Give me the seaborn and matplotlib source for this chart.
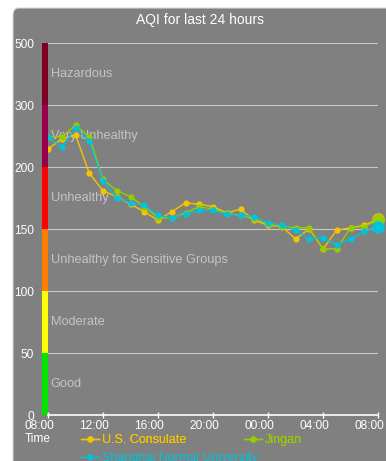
import numpy as np
import pandas as pd
import seaborn as sns
import matplotlib.pyplot as plt
import matplotlib.transforms as mtransforms
from matplotlib.patches import FancyBboxPatch

# hours since 08:00 yesterday
hours = list(range(25))
tick_hours = [0, 4, 8, 12, 16, 20, 24]
tick_labels = ["08:00", "12:00", "16:00", "20:00", "00:00", "04:00", "08:00"]

consulate = [229, 245, 252, 195, 181, 176, 170, 164, 157, 164, 171, 170, 168,
             163, 166, 157, 153, 152, 142, 150, 134, 149, 151, 153, 158]
jingan = [249, 249, 267, 249, 190, 181, 176, 168, 159, 159, 163, 168, 166,
          163, 161, 158, 154, 152, 151, 151, 134, 134, 151, 152, 157]
normal_univ = [249, 232, 263, 242, 189, 175, 171, 169, 161, 159, 162, 165, 165,
               162, 161, 160, 155, 153, 149, 142, 143, 137, 142, 148, 152]

stations = ["U.S. Consulate", "Jingan", "Shanghai Normal University"]
station_colors = ["#f5c400", "#99cc00", "#00c4dc"]

# AQI bands
band_edges = [0, 50, 100, 150, 200, 300, 500]
band_names = ["Good", "Moderate", "Unhealthy for Sensitive Groups",
              "Unhealthy", "Very Unhealthy", "Hazardous"]
band_colors = ["#00e400", "#ffff00", "#ff7e00", "#ff0000", "#99004c", "#7e0023"]

df = pd.DataFrame({
    "hour": hours * 3,
    "AQI": consulate + jingan + normal_univ,
    "station": [s for s in stations for _ in hours],
})

# each band gets the same height on the y axis
idx = np.arange(len(band_edges))
def fwd(v):
    return np.interp(v, band_edges, idx)
def inv(v):
    return np.interp(v, idx, band_edges)

plt.rcParams['font.family'] = ['Liberation Sans', 'DejaVu Sans']
fig = plt.figure(figsize=(3.86, 4.61), dpi=100, facecolor="white")
fig.patches.append(FancyBboxPatch((13 / 386, -0.05), 1.0, 1 - 8 / 461 + 0.05,
                                  boxstyle="round,pad=0,rounding_size=0.015",
                                  transform=fig.transFigure, facecolor="#808080",
                                  edgecolor="#d8d8d8", linewidth=0.8, zorder=-1))
ax = fig.add_axes([48 / 386, 1 - 415 / 461, 330 / 386, 372 / 461])
ax.set_facecolor("none")

ax.set_yscale("function", functions=(fwd, inv))
ax.set_ylim(0, 500)
ax.set_xlim(0, 24)

# grid lines
for e in band_edges[1:]:
    ax.axhline(e, color="#c8c8c8", lw=0.8, zorder=0)

# colour band on the left
for lo, hi, c, name in zip(band_edges[:-1], band_edges[1:], band_colors, band_names):
    ax.axhspan(lo, hi, xmin=-0.018, xmax=0, color=c, clip_on=False, lw=0)
    mid = inv((fwd(lo) + fwd(hi)) / 2)
    ax.text(0.2, mid, name, color="#c4c4c4", fontsize=9.2, va="center", ha="left", zorder=1)

palette = dict(zip(stations, station_colors))
sns.lineplot(data=df, x="hour", y="AQI", hue="station", palette=palette,
             marker="o", markersize=4.5, markeredgewidth=0, linewidth=1,
             legend=False, ax=ax, zorder=3)
last = df[df["hour"] == hours[-1]]
for s in stations:
    v = last.loc[last["station"] == s, "AQI"].values[0]
    ax.plot(hours[-1], v, "o", color=palette[s], markersize=8, clip_on=False, zorder=4)

ax.set_yticks(band_edges)
ax.set_yticklabels([str(e) for e in band_edges])
ax.set_xticks(tick_hours)
ax.set_xticklabels(tick_labels)
ax.tick_params(axis="y", length=0, colors="white", labelsize=8.6, pad=10)
ax.tick_params(axis="x", direction="inout", length=5, width=1, colors="white",
               labelsize=8.6, pad=1)
# x labels sit a little left of their ticks
shift = mtransforms.ScaledTranslation(-9 / 100, 0, fig.dpi_scale_trans)
for lab in ax.get_xticklabels():
    lab.set_transform(lab.get_transform() + shift)
for sp in ["top", "right", "left"]:
    ax.spines[sp].set_visible(False)
ax.spines["bottom"].set_color("white")
ax.spines["bottom"].set_linewidth(1.2)
ax.set_xlabel("")
ax.set_ylabel("")

fig.text(200 / 386, 1 - 20 / 461, "AQI for last 24 hours", color="white",
         fontsize=10, ha="center", va="center")
fig.text(25 / 386, 1 - 439 / 461, "Time", color="white", fontsize=8.6,
         ha="left", va="center")

handles = [plt.Line2D([], [], color=c, marker="o", markersize=4.5, lw=1,
                      markeredgewidth=0) for c in station_colors]
leg_kw = dict(frameon=False, fontsize=9, handlelength=1.45, handletextpad=0.25,
              borderaxespad=0, borderpad=0, loc="center left")
leg1 = fig.legend(handles[:2], stations[:2], ncol=2, columnspacing=4.6,
                  bbox_to_anchor=(81 / 386, 1 - 440 / 461), **leg_kw)
for t, c in zip(leg1.get_texts(), station_colors[:2]):
    t.set_color(c)
leg2 = fig.legend(handles[2:], stations[2:], bbox_to_anchor=(81 / 386, 1 - 458 / 461),
                  **leg_kw)
leg2.get_texts()[0].set_color(station_colors[2])
fig.add_artist(leg1)

fig.savefig("out.png", dpi=100, facecolor="white")
